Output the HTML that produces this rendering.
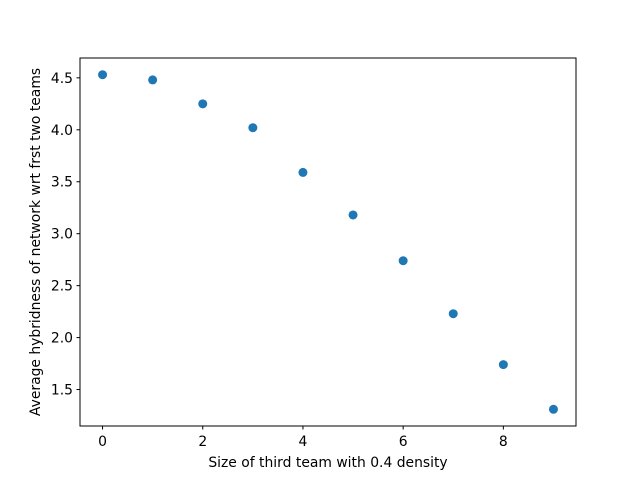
<!DOCTYPE html>
<html><head><meta charset="utf-8"><style>
body{margin:0;background:#fff;}
svg{font-family:"DejaVu Sans","Liberation Sans",sans-serif;}
</style></head><body>
<svg id="chart" width="640" height="480"></svg>
<script>
const xValues=[0,1,2,3,4,5,6,7,8,9];
const yValues=[4.53,4.48,4.25,4.02,3.59,3.18,2.74,2.23,1.74,1.31];
const xTicks=[0,2,4,6,8];
const yTicks=[1.5,2.0,2.5,3.0,3.5,4.0,4.5];
const yTickLabels=["1.5","2.0","2.5","3.0","3.5","4.0","4.5"];
const L=80,R=576,T=58,B=426;
const xmin=-0.45,xmax=9.45;
const ymn=Math.min(...yValues),ymx=Math.max(...yValues),pad=(ymx-ymn)*0.05;
const ymin=ymn-pad,ymax=ymx+pad;
const sx=v=>L+(v-xmin)/(xmax-xmin)*(R-L);
const sy=v=>B-(v-ymin)/(ymax-ymin)*(B-T);
const svg=document.getElementById('chart');
const NS="http://www.w3.org/2000/svg";
const FS=13.9;
function mk(tag,attrs,parent){const e=document.createElementNS(NS,tag);for(const k in attrs)e.setAttribute(k,attrs[k]);(parent||svg).appendChild(e);return e;}
xValues.forEach((x,i)=>{
  const c=mk('circle',{cx:sx(x),cy:sy(yValues[i]),r:4.5,fill:'#1f77b4'});
  
  
});
const frame=mk('rect',{x:L,y:T,width:R-L,height:B-T,fill:'none',stroke:'#000','stroke-width':1});


xTicks.forEach(t=>{
  const X=sx(t);
  const l=mk('line',{x1:X,x2:X,y1:B,y2:B+3.5,stroke:'#000'});
  
  
  const tx=mk('text',{x:X,y:B+20,'text-anchor':'middle','font-size':FS});
  tx.textContent=String(t);
  
  
});
yTicks.forEach((t,i)=>{
  const Y=sy(t);
  const l=mk('line',{x1:L-3.5,x2:L,y1:Y,y2:Y,stroke:'#000'});
  
  
  const tx=mk('text',{x:L-7,y:Y+5,'text-anchor':'end','font-size':FS});
  tx.textContent=yTickLabels[i];
  
  
});
const xt=mk('text',{x:(L+R)/2,y:467,'text-anchor':'middle','font-size':FS});
xt.textContent='Size of third team with 0.4 density';


const yt=mk('text',{x:0,y:0,'text-anchor':'middle','font-size':FS,transform:`translate(40,${(T+B)/2}) rotate(-90)`});
yt.textContent='Average hybridness of network wrt frst two teams';


</script>
</body></html>
